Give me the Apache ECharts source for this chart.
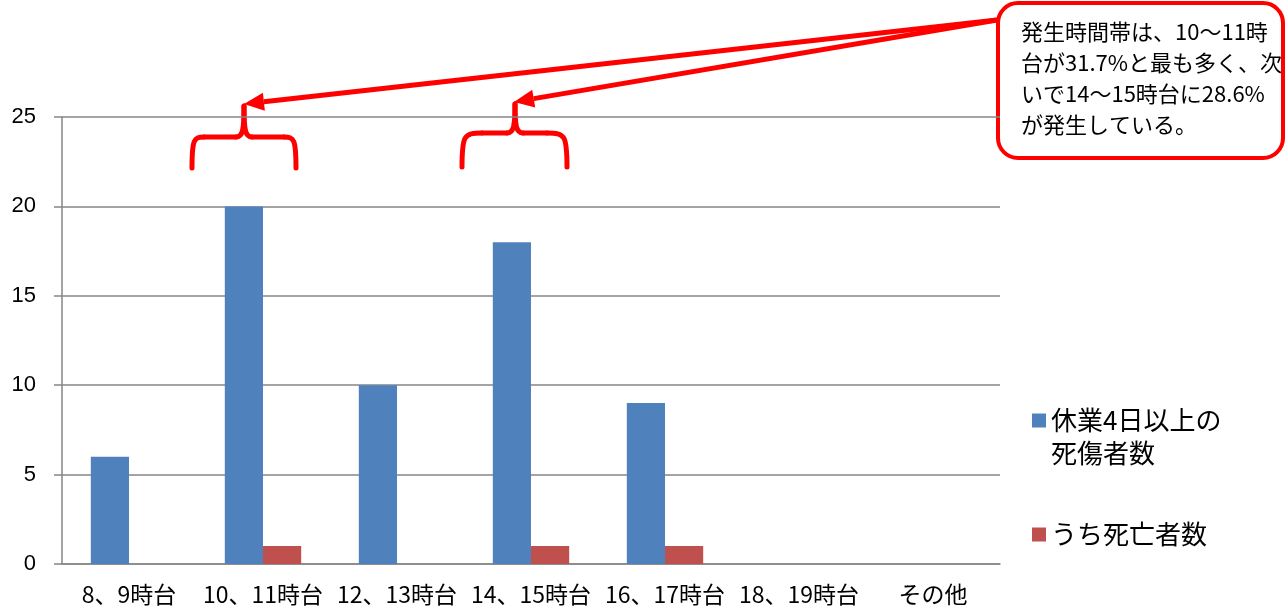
<!DOCTYPE html>
<html>
<head>
<meta charset="utf-8">
<script src="https://cdn.jsdelivr.net/npm/echarts@6/dist/echarts.min.js"></script>
<style>
  html, body { margin: 0; padding: 0; background: #fff; }
  #chart { width: 1287px; height: 614px; }
</style>
</head>
<body>
<div id="chart"></div>
<script>
const categories = ["8、9時台", "10、11時台", "12、13時台", "14、15時台", "16、17時台", "18、19時台", "その他"];
const injured = [6, 20, 10, 18, 9, 0, 0];
const deaths = [0, 1, 0, 1, 1, 0, 0];
const injuredName = "休業4日以上の\n死傷者数";
const deathsName = "うち死亡者数";
const yTicks = [0, 5, 10, 15, 20, 25];
const noteLines = [
  "発生時間帯は、10～11時",
  "台が31.7%と最も多く、次",
  "いで14～15時台に28.6%",
  "が発生している。"
];

const RED = "#ff0000";
const FONT = "'Noto Sans CJK JP', 'Noto Sans', sans-serif";

// thick red arrow: shaft + triangular head
function arrow(x1, y1, x2, y2) {
  const a = Math.atan2(y2 - y1, x2 - x1);
  const len = 20, half = 9;
  const bx = x2 - len * Math.cos(a), by = y2 - len * Math.sin(a);
  const nx = -Math.sin(a), ny = Math.cos(a);
  return [
    { type: "line", shape: { x1: x1, y1: y1, x2: bx, y2: by },
      style: { stroke: RED, lineWidth: 5 } },
    { type: "polygon",
      shape: { points: [[x2, y2], [bx + nx * half, by + ny * half], [bx - nx * half, by - ny * half]] },
      style: { fill: RED } }
  ];
}

// curly brace opening downwards, tip at (m, yt)
function brace(l, r, m, yb, yh, yt, rad) {
  const st = { stroke: RED, lineWidth: 5, fill: null, lineCap: "round" };
  return [
    { type: "bezierCurve", shape: { x1: l, y1: yb, cpx1: l, cpy1: yh + 2, cpx2: l + 2, cpy2: yh, x2: l + rad, y2: yh }, style: st },
    { type: "line", shape: { x1: l + rad, y1: yh, x2: m - 8, y2: yh }, style: st },
    { type: "bezierCurve", shape: { x1: m - 8, y1: yh, cpx1: m - 1, cpy1: yh, cpx2: m, cpy2: yh - 8, x2: m, y2: yt }, style: st },
    { type: "bezierCurve", shape: { x1: m + 8, y1: yh, cpx1: m + 1, cpy1: yh, cpx2: m, cpy2: yh - 8, x2: m, y2: yt }, style: st },
    { type: "line", shape: { x1: m + 8, y1: yh, x2: r - rad, y2: yh }, style: st },
    { type: "bezierCurve", shape: { x1: r - rad, y1: yh, cpx1: r - 2, cpy1: yh, cpx2: r, cpy2: yh + 2, x2: r, y2: yb }, style: st }
  ];
}

const chart = echarts.init(document.getElementById("chart"));

const graphics = []
  .concat(brace(192, 296, 244, 168, 137, 106, 12))
  .concat(brace(462, 567, 515, 167, 133, 104, 20))
  .concat(arrow(997, 20, 244, 104))
  .concat(arrow(997, 20, 514, 102))
  .concat([
    { type: "rect", shape: { x: 998, y: 3, width: 285, height: 155, r: 20 },
      style: { fill: "#fff", stroke: RED, lineWidth: 4 } },
    { type: "text", x: 1021, y: 16,
      style: { text: noteLines.join("\n"), font: "22px " + FONT, lineHeight: 31, fill: "#000" } }
  ]);

const option = {
  animation: false,
  color: ["#4f81bd", "#c0504d"],
  grid: { left: 62, right: 287, top: 117, bottom: 50, containLabel: false },
  legend: [
    {
      left: 1032, top: 371, padding: 0, itemWidth: 14, itemHeight: 14,
      icon: "rect",
      data: [{ name: injuredName }],
      // blank first line so the icon sits beside the first text line
      formatter: n => " \n" + n,
      textStyle: { fontSize: 26, fontFamily: FONT, color: "#000", lineHeight: 33 }
    },
    {
      left: 1032, top: 518, padding: 0, itemWidth: 14, itemHeight: 14,
      icon: "rect",
      data: [{ name: deathsName }],
      textStyle: { fontSize: 26, fontFamily: FONT, color: "#000", lineHeight: 33 }
    }
  ],
  xAxis: {
    type: "category",
    data: categories,
    axisLine: { lineStyle: { color: "#868686", width: 1.5 } },
    axisTick: { length: 8, lineStyle: { color: "#868686", width: 1.5 } },
    axisLabel: { fontSize: 23, fontFamily: FONT, color: "#000", margin: 19, interval: 0 }
  },
  yAxis: {
    type: "value",
    min: yTicks[0],
    max: yTicks[yTicks.length - 1],
    interval: yTicks[1] - yTicks[0],
    axisLine: { show: true, lineStyle: { color: "#868686", width: 1.5 } },
    axisTick: { show: true, length: 8, lineStyle: { color: "#868686", width: 1.5 } },
    splitLine: { lineStyle: { color: "#868686", width: 1.5 } },
    axisLabel: { fontSize: 22, fontFamily: "'Liberation Sans', sans-serif", color: "#000", margin: 26 }
  },
  series: [
    { name: injuredName, type: "bar", data: injured, barGap: "0%", barCategoryGap: "43%" },
    { name: deathsName, type: "bar", data: deaths, barGap: "0%", barCategoryGap: "43%" }
  ],
  graphic: graphics
};
option && chart.setOption(option);
</script>
</body>
</html>
